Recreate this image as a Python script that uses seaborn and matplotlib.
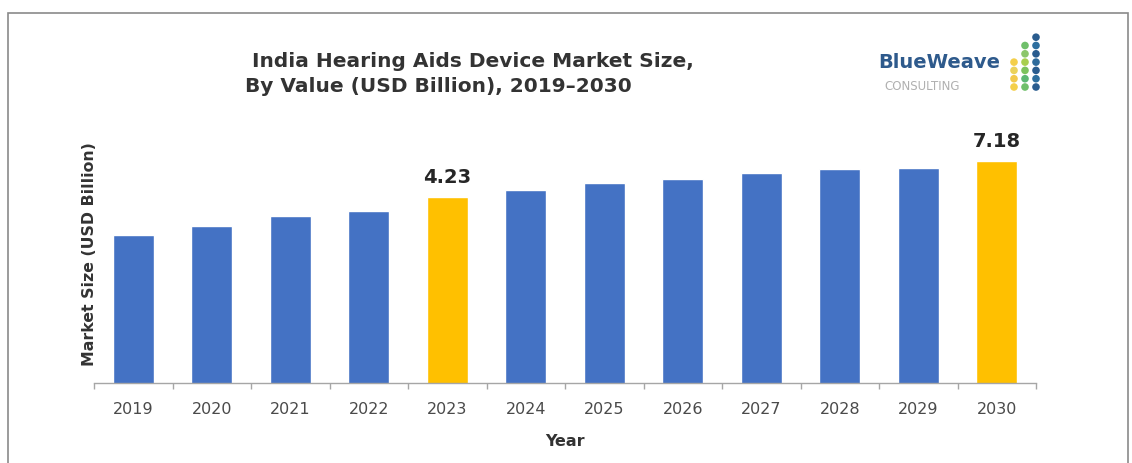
import matplotlib
matplotlib.use("Agg")
import matplotlib.pyplot as plt
from matplotlib.ticker import FixedLocator, NullLocator
from matplotlib.patches import Rectangle
import seaborn as sns
import pandas as pd

# ---- data ----
years = ["2019", "2020", "2021", "2022", "2023", "2024",
         "2025", "2026", "2027", "2028", "2029", "2030"]
values = [2.42, 2.74, 3.18, 3.44, 4.23, 4.67, 5.16, 5.47, 6.04, 6.38, 6.50, 7.18]
highlight_years = ["2023", "2030"]

title = " India Hearing Aids Device Market Size,\nBy Value (USD Billion), 2019\u20132030"
ylabel = "Market Size (USD Billion)"
xlabel = "Year"

BLUE = "#4472C4"
GOLD = "#FFC000"

df = pd.DataFrame({"Year": years, "Value": values})
palette = {y: (GOLD if y in highlight_years else BLUE) for y in years}

sns.set_theme(style="white")
plt.rcParams["font.family"] = ["DejaVu Sans"]

W, H = 1132, 463
fig = plt.figure(figsize=(W / 100, H / 100), dpi=100)
fig.patch.set_facecolor("white")

# frame around the chart
fig.add_artist(Rectangle((8 / W, -0.05), (1128 - 8) / W, (H - 13) / H + 0.05,
                         transform=fig.transFigure, fill=False,
                         edgecolor="#8a8a8a", linewidth=1.2))

ax = fig.add_axes([94 / W, (H - 383) / H, (1036 - 94) / W, (383 - 140) / H])
sns.barplot(data=df, x="Year", y="Value", hue="Year", palette=palette,
            legend=False, width=0.52, ax=ax, saturation=1)
ax.set_yscale("log")
ax.set_ylim(0.27, 9.8)
ax.set_xlim(-0.5, len(years) - 0.5)
ax.yaxis.set_major_locator(NullLocator())
ax.yaxis.set_minor_locator(NullLocator())

for s in ["top", "right", "left"]:
    ax.spines[s].set_visible(False)
ax.spines["bottom"].set_color("#a6a6a6")
ax.spines["bottom"].set_linewidth(1.0)

# category boundary tick marks
ax.xaxis.set_minor_locator(FixedLocator([i - 0.5 for i in range(len(years) + 1)]))
ax.tick_params(axis="x", which="minor", bottom=True, length=4, color="#a6a6a6", width=1)
ax.tick_params(axis="x", which="major", bottom=False, length=0, pad=14,
               labelsize=11.5, labelcolor="#4a4a4a")

ax.set_xlabel(xlabel, fontsize=11.5, fontweight="bold", color="#333333", labelpad=12)
ax.set_ylabel("")
fig.text(90 / W, 1 - 254 / H, ylabel, rotation=90, ha="center", va="center",
         fontsize=11.3, fontweight="bold", color="#333333")

for i, (y, v) in enumerate(zip(years, values)):
    if y in highlight_years:
        ax.annotate(f"{v:.2f}", (i, v), xytext=(0, 7), textcoords="offset points",
                    ha="center", va="bottom", fontsize=14, fontweight="bold",
                    color="#262626")

fig.text(245 / W, 1 - 74 / H, title,
         ha="left", va="center", fontsize=14.5, fontweight="bold", color="#333333",
         linespacing=1.35)

# logo
fig.text(878 / W, 1 - 62 / H, "BlueWeave", ha="left", va="center", fontsize=14,
         fontweight="bold", color="#2E5A8C")
fig.text(884 / W, 1 - 86 / H, "CONSULTING", ha="left", va="center", fontsize=8.5,
         color="#b0b0b0")
lax = fig.add_axes([1000 / W, 1 - 95 / H, 50 / W, 65 / H])
lax.set_xlim(1000, 1050)
lax.set_ylim(95, 30)
lax.axis("off")
cols = [(1014, ["#F4CF4A", "#F2C94C", "#EBD25A", "#F4CF4A"]),
        (1025, ["#6FBF6A", "#5DB873", "#7CC35E", "#A8CF4E", "#8CC66A", "#6FBF6A"]),
        (1036, ["#2A5C8E", "#2D6E9E", "#2A5C8E", "#2E6A9A", "#2A5C8E", "#2D6E9E", "#2A5C8E"])]
for x, cs in cols:
    n = len(cs)
    ys = [87 - k * 8.3 for k in range(n)]
    lax.scatter([x] * n, ys, s=30, c=cs, linewidths=0)

fig.savefig("out.png", dpi=100, facecolor="white")
